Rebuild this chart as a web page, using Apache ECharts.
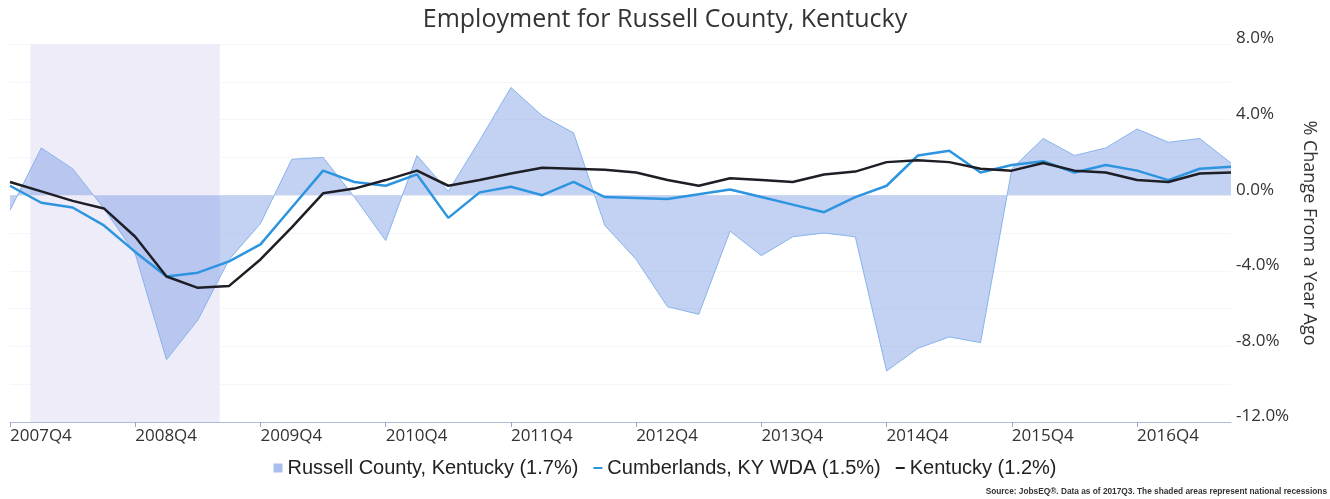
<!DOCTYPE html>
<html><head><meta charset="utf-8">
<script src="https://cdn.jsdelivr.net/npm/echarts@6/dist/echarts.min.js"></script>
<style>html,body{margin:0;padding:0;background:#fff}#c{width:1330px;height:499px}</style>
</head><body><div id="c"></div>
<script>
const quarters = ['2007Q4',
  '2008Q1','2008Q2','2008Q3','2008Q4',
  '2009Q1','2009Q2','2009Q3','2009Q4',
  '2010Q1','2010Q2','2010Q3','2010Q4',
  '2011Q1','2011Q2','2011Q3','2011Q4',
  '2012Q1','2012Q2','2012Q3','2012Q4',
  '2013Q1','2013Q2','2013Q3','2013Q4',
  '2014Q1','2014Q2','2014Q3','2014Q4',
  '2015Q1','2015Q2','2015Q3','2015Q4',
  '2016Q1','2016Q2','2016Q3','2016Q4',
  '2017Q1','2017Q2','2017Q3'];
const russell = [-0.8, 2.5, 1.4, -0.7, -3.1, -8.7, -6.6, -3.4, -1.5, 1.9,
  2.0, -0.1, -2.4, 2.1, 0.2, 2.9, 5.7, 4.2, 3.3, -1.6,
  -3.4, -5.9, -6.3, -1.9, -3.2, -2.2, -2.0, -2.2, -9.3, -8.1,
  -7.5, -7.8, 1.4, 3.0, 2.1, 2.5, 3.5, 2.8, 3.0, 1.7];
const cumberlands = [0.5, -0.4, -0.65, -1.6, -3.0, -4.3, -4.1, -3.5, -2.6, -0.65,
  1.3, 0.7, 0.5, 1.1, -1.2, 0.15, 0.45, 0.0, 0.7, -0.1,
  -0.15, -0.2, 0.05, 0.3, -0.1, -0.5, -0.9, -0.1, 0.5, 2.1,
  2.35, 1.2, 1.6, 1.8, 1.2, 1.6, 1.3, 0.8, 1.4, 1.5];
const kentucky = [0.7, 0.2, -0.3, -0.7, -2.2, -4.3, -4.9, -4.8, -3.4, -1.7,
  0.1, 0.35, 0.8, 1.3, 0.5, 0.8, 1.15, 1.45, 1.4, 1.35,
  1.2, 0.8, 0.5, 0.9, 0.8, 0.7, 1.1, 1.25, 1.75, 1.85,
  1.75, 1.4, 1.3, 1.7, 1.3, 1.2, 0.8, 0.7, 1.15, 1.2];
const seriesNames = ['Russell County, Kentucky (1.7%)', 'Cumberlands, KY WDA (1.5%)', 'Kentucky (1.2%)'];
// national recession (Dec 2007 - Jun 2009) in quarter-index units
const recession = [0.65, 6.7];
const labelQuarters = [0, 4, 8, 12, 16, 20, 24, 28, 32, 36];
const yTicks = [-12, -8, -4, 0, 4, 8];

const chart = echarts.init(document.getElementById('c'), null, {renderer: 'canvas'});
const font = '"Open Sans", sans-serif';
const toPairs = arr => arr.map((v, i) => [i, v]);
const dashIcon = 'path://M0,0 M0,7 L18,7 L18,11 L0,11 Z M18,18';

chart.setOption({
  animation: false,
  backgroundColor: '#ffffff',
  title: {
    text: 'Employment for Russell County, Kentucky',
    left: 'center', top: 2,
    textStyle: {fontFamily: font, fontSize: 25, fontWeight: 'normal', color: '#333'}
  },
  grid: {left: 10, right: 99, top: 44, bottom: 77, containLabel: false},
  xAxis: {
    type: 'value', min: 0, max: quarters.length - 1, interval: 4,
    axisLine: {show: true, onZero: false, lineStyle: {color: '#aeb8e0', width: 1}},
    axisTick: {show: true, length: 5, customValues: labelQuarters, lineStyle: {color: '#9aa6d6'}},
    splitLine: {show: false},
    axisLabel: {
      customValues: labelQuarters,
      formatter: v => (v % 4 === 0 && quarters[v]) ? quarters[v] : '',
      align: 'left', margin: 6,
      fontFamily: font, fontSize: 17, color: '#333'
    }
  },
  yAxis: {
    type: 'value', position: 'right', min: -12, max: 8, interval: 2,
    name: '% Change From a Year Ago', nameLocation: 'middle', nameRotate: -90, nameGap: 62,
    nameTextStyle: {fontFamily: font, fontSize: 18, color: '#333'},
    axisLine: {show: false}, axisTick: {show: false},
    splitLine: {show: true, lineStyle: {color: '#f6f6f9', width: 1}},
    axisLabel: {
      formatter: v => (yTicks.indexOf(v) >= 0) ? v.toFixed(1) + '%' : '',
      margin: 5, verticalAlign: 'bottom', lineHeight: 11,
      fontFamily: font, fontSize: 17, color: '#333'
    }
  },
  legend: {
    bottom: 16, left: 'center',
    itemWidth: 9, itemHeight: 9, itemGap: 15,
    textStyle: {fontFamily: '"Liberation Sans", Arial, sans-serif', fontSize: 20, color: '#222'},
    data: [
      {name: seriesNames[0], icon: 'rect'},
      {name: seriesNames[1], icon: dashIcon},
      {name: seriesNames[2], icon: dashIcon}
    ]
  },
  graphic: [{
    type: 'text', right: 3, bottom: 3,
    style: {
      text: 'Source: JobsEQ\u00AE. Data as of 2017Q3. The shaded areas represent national recessions',
      font: 'bold 8.3px "Liberation Sans Narrow", "Liberation Sans", sans-serif',
      fill: '#333'
    }
  }],
  series: [
    {
      name: seriesNames[0], type: 'line', data: toPairs(russell),
      symbol: 'none', showSymbol: false, z: 2,
      itemStyle: {color: '#a9bdee'},
      lineStyle: {color: '#86b4ec', width: 1},
      areaStyle: {color: 'rgba(99,137,224,0.55)', origin: 0},
      markArea: {
        silent: true,
        itemStyle: {color: '#efecf9'},
        data: [[{xAxis: recession[0]}, {xAxis: recession[1]}]]
      }
    },
    {
      name: seriesNames[1], type: 'line', data: toPairs(cumberlands),
      symbol: 'none', showSymbol: false, z: 3,
      itemStyle: {color: '#2d95e0'},
      lineStyle: {color: '#2d95e0', width: 2.5}
    },
    {
      name: seriesNames[2], type: 'line', data: toPairs(kentucky),
      symbol: 'none', showSymbol: false, z: 4,
      itemStyle: {color: '#1e1e26'},
      lineStyle: {color: '#1e1e26', width: 2.5}
    }
  ]
});
</script>
</body></html>
